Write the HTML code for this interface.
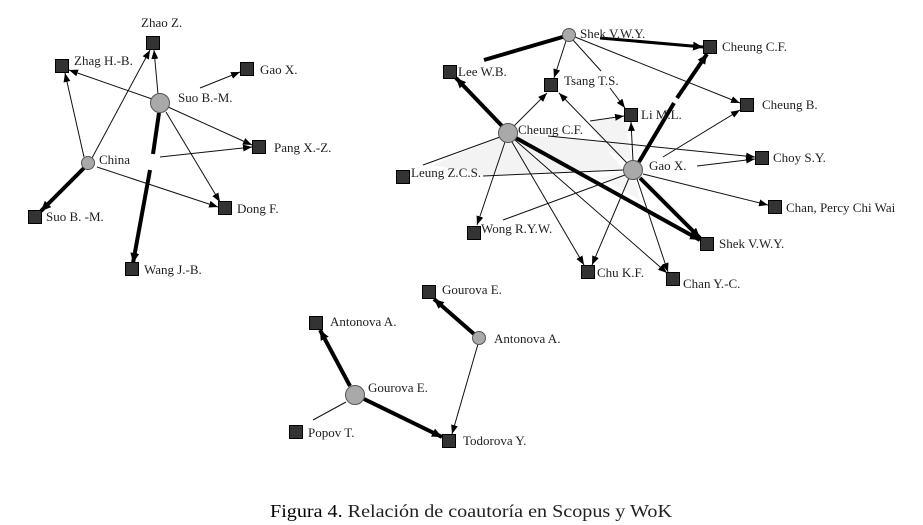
<!DOCTYPE html>
<html><head><meta charset="utf-8"><style>
html,body{margin:0;padding:0;background:#fff;}
svg{display:block;}
text{font-family:"Liberation Serif",serif;font-size:13px;fill:#1e1e1e;}
.t{stroke:#111;stroke-width:1;fill:none;}
.k{stroke:#000;stroke-width:4;fill:none;}
.m{stroke:#000;stroke-width:3;fill:none;}
.sq{fill:#333;stroke:#000;stroke-width:1;}
.ci{fill:#a9a9a9;stroke:#555;stroke-width:1;}
</style></head><body>
<svg width="923" height="525" viewBox="0 0 923 525" xmlns="http://www.w3.org/2000/svg">
<defs>
<marker id="a" markerUnits="userSpaceOnUse" markerWidth="10" markerHeight="8" refX="9" refY="3.5" orient="auto"><path d="M0,0 L9,3.5 L0,7 z" fill="#000"/></marker>
<marker id="b" markerUnits="userSpaceOnUse" markerWidth="12" markerHeight="10" refX="10" refY="4.5" orient="auto"><path d="M0,0 L10,4.5 L0,9 z" fill="#000"/></marker>
</defs>
<rect width="923" height="525" fill="#fff"/>

<!-- light shaded regions -->
<polygon points="508,133 433,165 483,175 624,170 600,142" fill="#f3f3f3"/>
<polygon points="590,121 625,117 631,160 605,150" fill="#f4f4f4"/>
<polygon points="633,170 600,178 640,200" fill="#f5f5f5"/>

<!-- LEFT GRAPH edges -->
<path class="t" d="M84,157 L65,73" marker-end="url(#a)"/>
<path class="t" d="M92,158 L150,50" marker-end="url(#a)"/>
<path class="t" d="M158,94 L154,50" marker-end="url(#a)"/>
<path class="t" d="M152,99 L69,70" marker-end="url(#a)"/>
<path class="t" d="M200,88 L240,72" marker-end="url(#a)"/>
<path class="t" d="M168,107 L252,145" marker-end="url(#a)"/>
<path class="t" d="M160,157 L252,147" marker-end="url(#a)"/>
<path class="t" d="M166,112 L220,202" marker-end="url(#a)"/>
<path class="t" d="M97,167 L218,207" marker-end="url(#a)"/>
<path class="k" d="M159,113 L153,154"/>
<path class="k" d="M150,170 L133,263" marker-end="url(#b)"/>
<path class="k" d="M84,168 L41,211" marker-end="url(#b)"/>

<!-- RIGHT GRAPH edges -->
<path class="k" d="M566,36 L484,60"/>
<path class="m" d="M600,38 L703,47" marker-end="url(#b)"/>
<path class="t" d="M566,41 L554,78" marker-end="url(#a)"/>
<path class="t" d="M573,40 L601,71"/>
<path class="t" d="M610,88 L625,108" marker-end="url(#a)"/>
<path class="t" d="M575,37 L740,103" marker-end="url(#a)"/>
<path class="k" d="M503,127 L456,78" marker-end="url(#b)"/>
<path class="t" d="M514,126 L547,93" marker-end="url(#a)"/>
<path class="k" d="M516,138 L700,240" marker-end="url(#b)"/>
<path class="t" d="M500,137 L423,165"/>
<path class="t" d="M505,142 L477,225" marker-end="url(#a)"/>
<path class="t" d="M512,142 L584,265" marker-end="url(#a)"/>
<path class="t" d="M515,140 L667,273" marker-end="url(#a)"/>
<path class="t" d="M627,163 L559,93" marker-end="url(#a)"/>
<path class="t" d="M633,161 L631,122" marker-end="url(#a)"/>
<path class="t" d="M590,121 L624,116" marker-end="url(#a)"/>
<path class="k" d="M639,162 L674,103"/>
<path class="k" d="M677,98 L707,54" marker-end="url(#b)"/>
<path class="t" d="M697,166 L755,159" marker-end="url(#a)"/>
<path class="t" d="M548,136 L755,157" marker-end="url(#a)"/>
<path class="t" d="M663,157 L740,110" marker-end="url(#a)"/>
<path class="t" d="M643,174 L768,205" marker-end="url(#a)"/>
<path class="k" d="M640,178 L700,238" marker-end="url(#b)"/>
<path class="t" d="M637,179 L668,272" marker-end="url(#a)"/>
<path class="t" d="M629,178 L592,265" marker-end="url(#a)"/>
<path class="t" d="M625,175 L503,220"/>
<path class="t" d="M624,170 L483,176"/>

<!-- BOTTOM GRAPH edges -->
<path class="k" d="M474,334 L434,299" marker-end="url(#b)"/>
<path class="t" d="M478,344 L452,434" marker-end="url(#a)"/>
<path class="k" d="M350,386 L320,330" marker-end="url(#b)"/>
<path class="k" d="M364,399 L442,437" marker-end="url(#b)"/>
<path class="t" d="M346,402 L313,420"/>

<!-- squares -->
<rect class="sq" x="146.5" y="36.5" width="13" height="13"/>
<rect class="sq" x="55.5" y="59.5" width="13" height="13"/>
<rect class="sq" x="240.5" y="62.5" width="13" height="13"/>
<rect class="sq" x="252.5" y="140.5" width="13" height="13"/>
<rect class="sq" x="28.5" y="210.5" width="13" height="13"/>
<rect class="sq" x="218.5" y="201.5" width="13" height="13"/>
<rect class="sq" x="125.5" y="262.5" width="13" height="13"/>
<rect class="sq" x="443.5" y="65.5" width="13" height="13"/>
<rect class="sq" x="544.5" y="78.5" width="13" height="13"/>
<rect class="sq" x="624.5" y="108.5" width="13" height="13"/>
<rect class="sq" x="396.5" y="170.5" width="13" height="13"/>
<rect class="sq" x="467.5" y="226.5" width="13" height="13"/>
<rect class="sq" x="581.5" y="265.5" width="13" height="13"/>
<rect class="sq" x="703.5" y="40.5" width="13" height="13"/>
<rect class="sq" x="740.5" y="98.5" width="13" height="13"/>
<rect class="sq" x="755.5" y="151.5" width="13" height="13"/>
<rect class="sq" x="768.5" y="200.5" width="13" height="13"/>
<rect class="sq" x="700.5" y="237.5" width="13" height="13"/>
<rect class="sq" x="666.5" y="272.5" width="13" height="13"/>
<rect class="sq" x="422.5" y="285.5" width="13" height="13"/>
<rect class="sq" x="309.5" y="316.5" width="13" height="13"/>
<rect class="sq" x="289.5" y="425.5" width="13" height="13"/>
<rect class="sq" x="442.5" y="434.5" width="13" height="13"/>

<!-- circles -->
<circle class="ci" cx="160" cy="103" r="9.5"/>
<circle class="ci" cx="88" cy="163" r="6.5"/>
<circle class="ci" cx="569" cy="35" r="6.5"/>
<circle class="ci" cx="508" cy="133" r="9.5"/>
<circle class="ci" cx="633" cy="170" r="9.5"/>
<circle class="ci" cx="479" cy="338" r="6.5"/>
<circle class="ci" cx="355" cy="395" r="9.5"/>

<!-- labels left -->
<text x="141" y="27">Zhao Z.</text>
<text x="74" y="65">Zhag H.-B.</text>
<text x="260" y="74">Gao X.</text>
<text x="178" y="102">Suo B.-M.</text>
<text x="274" y="152">Pang X.-Z.</text>
<text x="99" y="164">China</text>
<text x="46" y="221">Suo B. -M.</text>
<text x="237" y="213">Dong F.</text>
<text x="144" y="274">Wang J.-B.</text>

<!-- labels right -->
<text x="580" y="38">Shek V.W.Y.</text>
<text x="458" y="76">Lee W.B.</text>
<text x="564" y="85">Tsang T.S.</text>
<text x="641" y="119">Li M.L.</text>
<text x="518" y="134">Cheung C.F.</text>
<text x="649" y="170">Gao X.</text>
<text x="411" y="177">Leung Z.C.S.</text>
<text x="481" y="233">Wong R.Y.W.</text>
<text x="597" y="277">Chu K.F.</text>
<text x="722" y="51">Cheung C.F.</text>
<text x="762" y="109">Cheung B.</text>
<text x="773" y="162">Choy S.Y.</text>
<text x="786" y="212">Chan, Percy Chi Wai</text>
<text x="719" y="248">Shek V.W.Y.</text>
<text x="683" y="288">Chan Y.-C.</text>

<!-- labels bottom -->
<text x="442" y="294">Gourova E.</text>
<text x="330" y="326">Antonova A.</text>
<text x="494" y="343">Antonova A.</text>
<text x="368" y="392">Gourova E.</text>
<text x="308" y="437">Popov T.</text>
<text x="463" y="445">Todorova Y.</text>

<!-- caption -->
<text x="270" y="517" style="font-size:18px;fill:#222;" textLength="402" lengthAdjust="spacingAndGlyphs"><tspan style="fill:#000;">Figura 4.</tspan> Relación de coautoría en Scopus y WoK</text>
</svg>
</body></html>
